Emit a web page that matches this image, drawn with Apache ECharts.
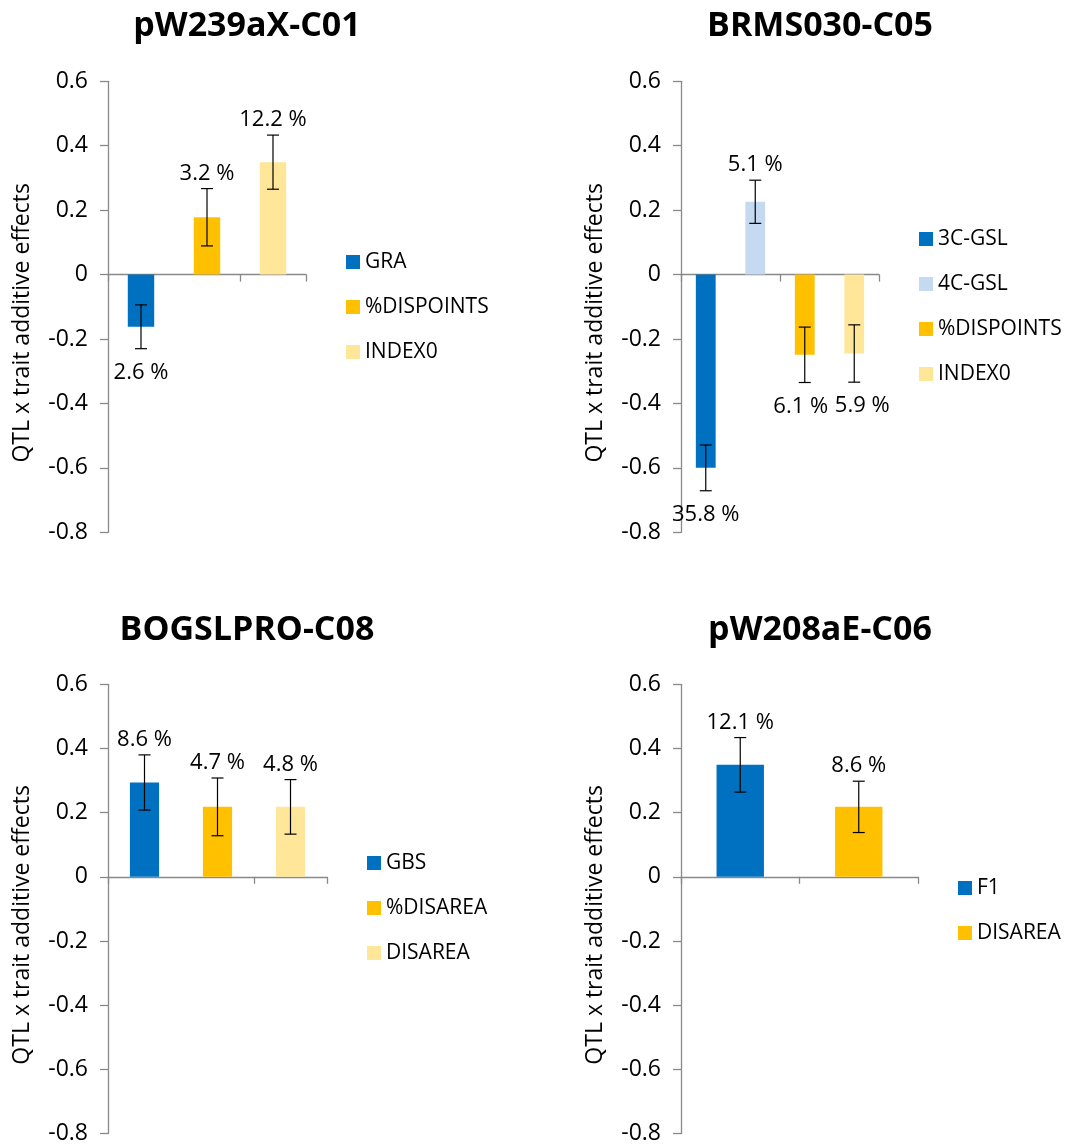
<!DOCTYPE html>
<html>
<head>
<meta charset="utf-8">
<script src="https://cdn.jsdelivr.net/npm/echarts@6/dist/echarts.min.js"></script>
<style>
html,body{margin:0;padding:0;background:#fff;}
#chart{width:1069px;height:1145px;}
</style>
</head>
<body>
<div id="chart"></div>
<script>
// ---- data ----
const titles = ['pW239aX-C01', 'BRMS030-C05', 'BOGSLPRO-C08', 'pW208aE-C06'];

const p1Cats = ['GRA', '%DISPOINTS', 'INDEX0'];
const p1Vals = [-0.162, 0.178, 0.349];
const p1Errs = [0.068, 0.089, 0.084];
const p1Pct  = ['2.6 %', '3.2 %', '12.2 %'];

const p2Cats = ['3C-GSL', '4C-GSL', '%DISPOINTS', 'INDEX0'];
const p2Vals = [-0.600, 0.226, -0.249, -0.245];
const p2Errs = [0.071, 0.067, 0.086, 0.089];
const p2Pct  = ['35.8 %', '5.1 %', '6.1 %', '5.9 %'];

const p3Cats = ['GBS', '%DISAREA', 'DISAREA'];
const p3Vals = [0.294, 0.218, 0.218];
const p3Errs = [0.086, 0.090, 0.085];
const p3Pct  = ['8.6 %', '4.7 %', '4.8 %'];

const p4Cats = ['F1', 'DISAREA'];
const p4Vals = [0.349, 0.218];
const p4Errs = [0.085, 0.080];
const p4Pct  = ['12.1 %', '8.6 %'];

const yTicks = [-0.8, -0.6, -0.4, -0.2, 0, 0.2, 0.4, 0.6];
const yAxisTitle = 'QTL x trait additive effects';

// ---- styles / layout ----
const BLUE = '#0070C0', GOLD = '#FFC000', PALE = '#FFE699', LBLUE = '#C5D9F1';
const panels = [
  {cats: p1Cats, vals: p1Vals, errs: p1Errs, pct: p1Pct, colors: [BLUE, GOLD, PALE], labelDx: [0, 0, 0],
   grid: {left: 108, top: 81.3, width: 198, height: 451}, title: [247, 26], legend: {left: 346, top: 250}},
  {cats: p2Cats, vals: p2Vals, errs: p2Errs, pct: p2Pct, colors: [BLUE, LBLUE, GOLD, PALE], labelDx: [0, 0, -4, 8],
   grid: {left: 681, top: 81.3, width: 198, height: 451}, title: [820, 26], legend: {left: 919, top: 227}},
  {cats: p3Cats, vals: p3Vals, errs: p3Errs, pct: p3Pct, colors: [BLUE, GOLD, PALE], labelDx: [0, 0, 0],
   grid: {left: 108, top: 684.3, width: 219, height: 451}, title: [247, 630], legend: {left: 367, top: 851}},
  {cats: p4Cats, vals: p4Vals, errs: p4Errs, pct: p4Pct, colors: [BLUE, GOLD], labelDx: [0, 0],
   grid: {left: 681, top: 684.3, width: 237, height: 451}, title: [820, 630], legend: {left: 958, top: 876}}
];

const FONT = '"Open Sans", "Noto Sans", sans-serif';
const AXIS_GRAY = '#898989';

const grids = [], xAxes = [], yAxes = [], series = [], legends = [], graphics = [];

panels.forEach((p, pi) => {
  grids.push(Object.assign({containLabel: false}, p.grid));
  xAxes.push({
    type: 'category', gridIndex: pi, data: p.cats,
    axisLine: {onZero: true, lineStyle: {color: AXIS_GRAY, width: 1.3}},
    axisTick: {show: true, alignWithLabel: false, length: 7, lineStyle: {color: AXIS_GRAY, width: 1.3}},
    axisLabel: {show: false}, splitLine: {show: false}
  });
  yAxes.push({
    type: 'value', gridIndex: pi, min: yTicks[0], max: yTicks[yTicks.length - 1], interval: 0.2,
    axisLine: {show: true, lineStyle: {color: AXIS_GRAY, width: 1.3}},
    axisTick: {show: true, length: 8, lineStyle: {color: AXIS_GRAY, width: 1.3}},
    splitLine: {show: false},
    axisLabel: {fontFamily: FONT, fontSize: 23, color: '#000', margin: 20,
      formatter: v => (Math.abs(v) < 1e-9 ? '0' : (+v.toFixed(1)).toString())},
    name: yAxisTitle, nameLocation: 'middle', nameRotate: 90, nameGap: 74,
    nameTextStyle: {fontFamily: FONT, fontSize: 23, color: '#000', padding: [0, 32, 0, 0]}
  });
  const legendNames = [];
  p.cats.forEach((c, ci) => {
    const nm = 'p' + (pi + 1) + ':' + c;
    legendNames.push(nm);
    const d = p.cats.map((_, k) => (k === ci ? p.vals[ci] : '-'));
    series.push({
      type: 'bar', name: nm, xAxisIndex: pi, yAxisIndex: pi, stack: 'panel' + pi,
      barWidth: '40%', data: d, itemStyle: {color: p.colors[ci]}, animation: false
    });
  });
  // error bars + percentage labels
  series.push({
    type: 'custom', name: 'err' + pi, xAxisIndex: pi, yAxisIndex: pi, animation: false,
    silent: true, z: 10,
    data: p.vals.map((v, k) => [k, v - p.errs[k], v + p.errs[k]]),
    encode: {x: 0, y: [1, 2]},
    renderItem: (params, api) => {
      const k = api.value(0);
      const lo = api.coord([k, api.value(1)]);
      const hi = api.coord([k, api.value(2)]);
      const x = lo[0], cap = 6;
      const st = {stroke: '#000', lineWidth: 1.2};
      const positive = p.vals[params.dataIndex] >= 0;
      const ty = positive ? hi[1] - 15 : lo[1] + 24;
      return {
        type: 'group',
        children: [
          {type: 'line', shape: {x1: x, y1: lo[1], x2: x, y2: hi[1]}, style: st},
          {type: 'line', shape: {x1: x - cap, y1: lo[1], x2: x + cap, y2: lo[1]}, style: st},
          {type: 'line', shape: {x1: x - cap, y1: hi[1], x2: x + cap, y2: hi[1]}, style: st},
          {type: 'text', x: x + p.labelDx[params.dataIndex], y: ty, style: {text: p.pct[params.dataIndex], fill: '#000',
            font: '22px ' + FONT, align: 'center', verticalAlign: 'middle'}}
        ]
      };
    }
  });
  legends.push({
    orient: 'vertical', left: p.legend.left, top: p.legend.top, padding: 0,
    itemWidth: 14, itemHeight: 14, itemGap: 21, icon: 'rect',
    data: legendNames, selectedMode: false,
    formatter: n => n.split(':').slice(1).join(':'),
    textStyle: {fontFamily: FONT, fontSize: 21, color: '#000', lineHeight: 24, padding: [0, 0, 0, 0]}
  });
  graphics.push({
    type: 'text', x: p.title[0], y: p.title[1],
    style: {text: titles[pi], font: 'bold 34px ' + FONT, fill: '#000', align: 'center', verticalAlign: 'middle'}
  });
});

const chart = echarts.init(document.getElementById('chart'), null, {renderer: 'canvas'});
chart.setOption({
  backgroundColor: '#fff',
  animation: false,
  grid: grids, xAxis: xAxes, yAxis: yAxes, series: series, legend: legends,
  graphic: graphics
});
</script>
</body>
</html>
